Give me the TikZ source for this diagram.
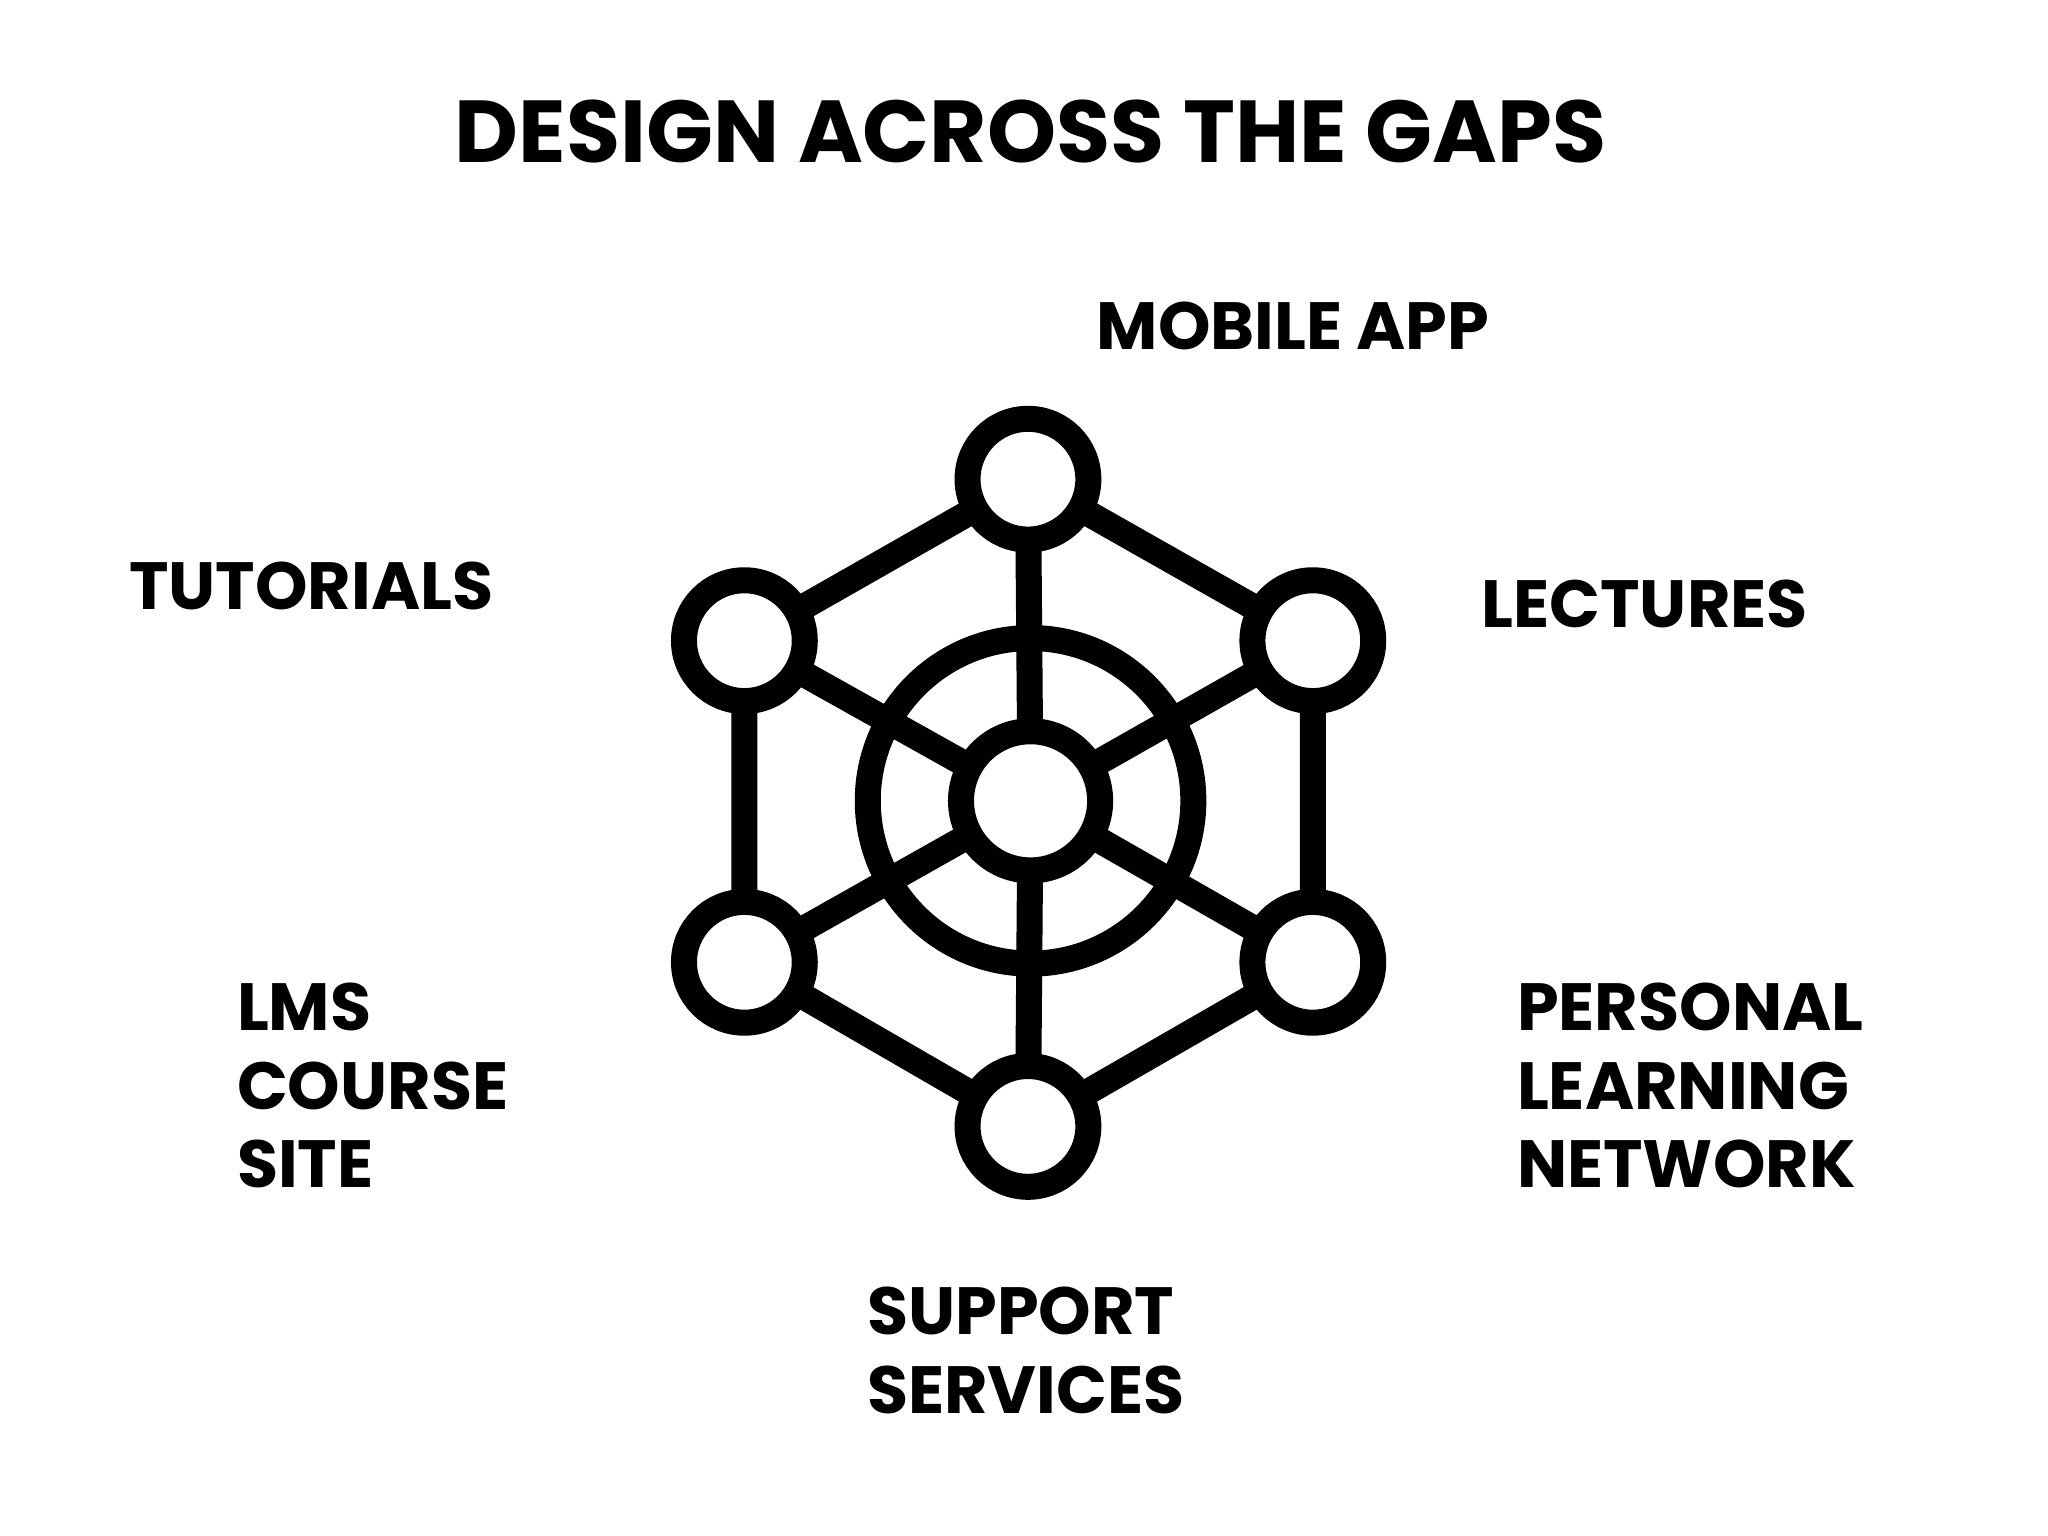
\documentclass[tikz,border=0pt]{standalone}
\usepackage{fontspec}
\setmainfont{Poppins}[BoldFont={* Bold}]
\begin{document}
\begin{tikzpicture}[x=0.013128cm,y=-0.013128cm,
  thick line/.style={line width=7.4pt},
  ring/.style={draw,line width=7.4pt,fill=white},
  lbl/.style={font=\fontsize{19}{22.4}\selectfont\bfseries,anchor=west,align=left,inner sep=0pt},
  ]
\useasboundingbox (0,0) rectangle (1560,1170);
\node[font=\fontsize{25}{30}\selectfont\bfseries] (title) at (785,100) {DESIGN ACROSS THE GAPS};
\coordinate (c) at (785,610);
\coordinate (n1) at (783,365);
\coordinate (n2) at (1000,488);
\coordinate (n3) at (1000,733);
\coordinate (n4) at (783,858);
\coordinate (n5) at (567,733);
\coordinate (n6) at (567,488);
\draw[thick line] (n1)--(n2)--(n3)--(n4)--(n5)--(n6)--cycle;
\foreach \n in {n1,n2,n3,n4,n5,n6} \draw[thick line] (c)--(\n);
\draw[line width=7.4pt] (c) circle[radius=124];
\filldraw[ring] (c) circle[radius=53];
\foreach \n in {n1,n2,n3,n4,n5,n6} \filldraw[ring] (\n) circle[radius=46];
\node[lbl] (mob) at (835,248) {MOBILE APP};
\node[lbl] (tut) at (98,446) {TUTORIALS};
\node[lbl] (lec) at (1128,460) {LECTURES};
\node[lbl,anchor=north west] (lms) at (180,748) {LMS\\COURSE\\SITE};
\node[lbl,anchor=north west] (pln) at (1155,748) {PERSONAL\\LEARNING\\NETWORK};
\node[lbl,anchor=north west] (sup) at (660,980) {SUPPORT\\SERVICES};
\end{tikzpicture}
\end{document}
